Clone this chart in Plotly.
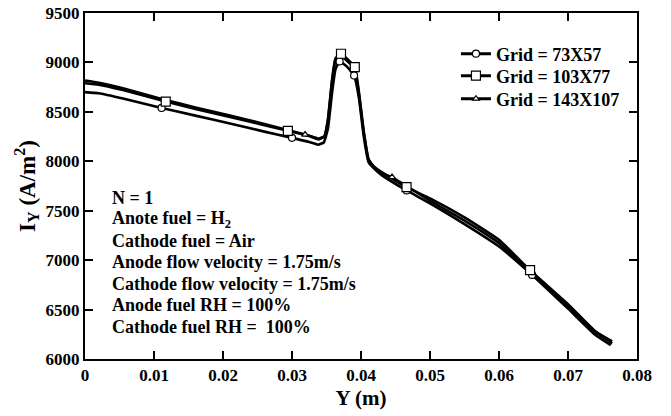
import plotly.graph_objects as go

# ---- data ----
x_73 = [0, 0.002, 0.0055, 0.0111, 0.016, 0.021, 0.026, 0.030, 0.0325, 0.0338, 0.0346,
        0.0352, 0.0358, 0.0363, 0.0369, 0.038, 0.0390, 0.0397, 0.0404, 0.0411, 0.0419,
        0.043, 0.0466, 0.050, 0.055, 0.060, 0.0648, 0.070, 0.0739, 0.0762]
iy_73 = [8700, 8688, 8635, 8540, 8462, 8382, 8300, 8237, 8195, 8168, 8190,
         8330, 8690, 8930, 9010, 8955, 8868, 8640, 8250, 7990, 7925,
         7860, 7705, 7575, 7365, 7138, 6850, 6510, 6248, 6140]

x_103 = [0, 0.002, 0.0055, 0.0117, 0.016, 0.021, 0.026, 0.0294, 0.0325, 0.0339, 0.0347,
         0.0352, 0.0358, 0.0363, 0.0371, 0.038, 0.0391, 0.0397, 0.0404, 0.0411, 0.0419,
         0.043, 0.0466, 0.050, 0.055, 0.060, 0.0645, 0.070, 0.0740, 0.0764]
iy_103 = [8790, 8775, 8720, 8604, 8528, 8448, 8365, 8308, 8255, 8222, 8250,
          8420, 8820, 9040, 9088, 9035, 8952, 8700, 8300, 8020, 7945,
          7890, 7738, 7625, 7432, 7205, 6899, 6555, 6277, 6178]

x_143 = [0, 0.002, 0.0055, 0.0115, 0.016, 0.021, 0.026, 0.0319, 0.0330, 0.0339, 0.0347,
         0.0352, 0.0358, 0.0363, 0.0370, 0.038, 0.0391, 0.0397, 0.0404, 0.0411, 0.0419,
         0.043, 0.0445, 0.050, 0.055, 0.060, 0.0645, 0.070, 0.0742, 0.0764]
iy_143 = [8818, 8795, 8738, 8622, 8545, 8462, 8378, 8270, 8248, 8230, 8255,
          8410, 8800, 9020, 9065, 9015, 8930, 8680, 8290, 8015, 7940,
          7878, 7840, 7600, 7400, 7172, 6878, 6532, 6262, 6158]

# marker points of each series
mk_x_73 = [0.0111, 0.030, 0.0369, 0.0390, 0.0466, 0.0648]
mk_y_73 = [8540, 8237, 9010, 8868, 7705, 6850]
mk_x_103 = [0.0117, 0.0294, 0.0371, 0.0391, 0.0466, 0.0645]
mk_y_103 = [8604, 8308, 9088, 8952, 7738, 6899]
mk_x_143 = [0.0319, 0.0445]
mk_y_143 = [8270, 7840]

series_names = ["Grid = 73X57", "Grid = 103X77", "Grid = 143X107"]

info_lines = ["N = 1", "Anote fuel = H<sub>2</sub>", "Cathode fuel = Air",
              "Anode flow velocity = 1.75m/s", "Cathode flow velocity = 1.75m/s",
              "Anode fuel RH = 100%", "Cathode fuel RH =  100%"]

# tick values
x_major = [0, 0.01, 0.02, 0.03, 0.04, 0.05, 0.06, 0.07, 0.08]
y_major = [6000, 6500, 7000, 7500, 8000, 8500, 9000, 9500]

FONT = "Liberation Serif"
X_RANGE = [0, 0.08]
Y_RANGE = [6000, 9500]

series = [
    (x_73, iy_73, mk_x_73, mk_y_73, "circle", 7),
    (x_103, iy_103, mk_x_103, mk_y_103, "square", 9),
    (x_143, iy_143, mk_x_143, mk_y_143, "triangle-up", 6),
]
legend_ids = ["legend", "legend2", "legend3"]

fig = go.Figure()
for (xs, ys, mx, my, sym, sz) in series:
    fig.add_trace(go.Scatter(x=xs, y=ys, mode="lines", showlegend=False,
                             line=dict(color="black", width=2.6, shape="spline", smoothing=0.4)))
for (xs, ys, mx, my, sym, sz) in series:
    fig.add_trace(go.Scatter(x=mx, y=my, mode="markers", showlegend=False,
                             marker=dict(symbol=sym, size=sz, color="white",
                                         line=dict(color="black", width=1.2))))
for (xs, ys, mx, my, sym, sz), name, lg in zip(series, series_names, legend_ids):
    fig.add_trace(go.Scatter(x=[None], y=[None], mode="lines+markers", name=name,
                             legend=lg,
                             line=dict(color="black", width=3),
                             marker=dict(symbol=sym, size=sz, color="white",
                                         line=dict(color="black", width=1.2))))

for i, t in enumerate(info_lines):
    fig.add_annotation(x=0.046, y=0.466 - i * 0.0622, xref="paper", yref="paper",
                       text=t, showarrow=False, xanchor="left", yanchor="middle",
                       font=dict(family=FONT, size=18, color="black", weight="bold"))

tick_font = dict(family=FONT, size=17, color="black", weight="bold")

fig.update_layout(
    xaxis=dict(range=X_RANGE, tickmode="array", tickvals=x_major,
               showline=True, linecolor="black", linewidth=2, mirror="allticks",
               ticks="inside", ticklen=8, tickwidth=2, tickcolor="black",
               minor=dict(ticks="inside", ticklen=4, tickwidth=2, tickcolor="black",
                          nticks=2, showgrid=False),
               showgrid=False, zeroline=False, tickfont=tick_font,
               automargin=False,
               title=dict(text="Y (m)", standoff=6,
                          font=dict(family=FONT, size=21, color="black", weight="bold"))),
    yaxis=dict(range=Y_RANGE, tickmode="array", tickvals=y_major,
               showline=True, linecolor="black", linewidth=2, mirror="allticks",
               ticks="inside", ticklen=8, tickwidth=2, tickcolor="black",
               minor=dict(ticks="inside", ticklen=4, tickwidth=2, tickcolor="black",
                          nticks=2, showgrid=False),
               showgrid=False, zeroline=False, tickfont=tick_font,
               automargin=False,
               title=dict(text="I<sub>Y</sub> (A/m<sup>2</sup>)", standoff=4,
                          font=dict(family=FONT, size=23, color="black", weight="bold"))),
)

leg_common = dict(x=0.672, xanchor="left", yanchor="middle",
                  bgcolor="rgba(0,0,0,0)", borderwidth=0, itemwidth=30,
                  font=dict(family=FONT, size=18, color="black", weight="bold"))
leg_rows = [54, 76, 99]
fig.update_layout(
    width=671, height=416,
    margin=dict(l=85, r=34, t=13, b=57),
    paper_bgcolor="white", plot_bgcolor="white",
    legend=dict(y=(359 - leg_rows[0]) / 346, **leg_common),
    legend2=dict(y=(359 - leg_rows[1]) / 346, **leg_common),
    legend3=dict(y=(359 - leg_rows[2]) / 346, **leg_common),
)

fig.write_html("out.html")
